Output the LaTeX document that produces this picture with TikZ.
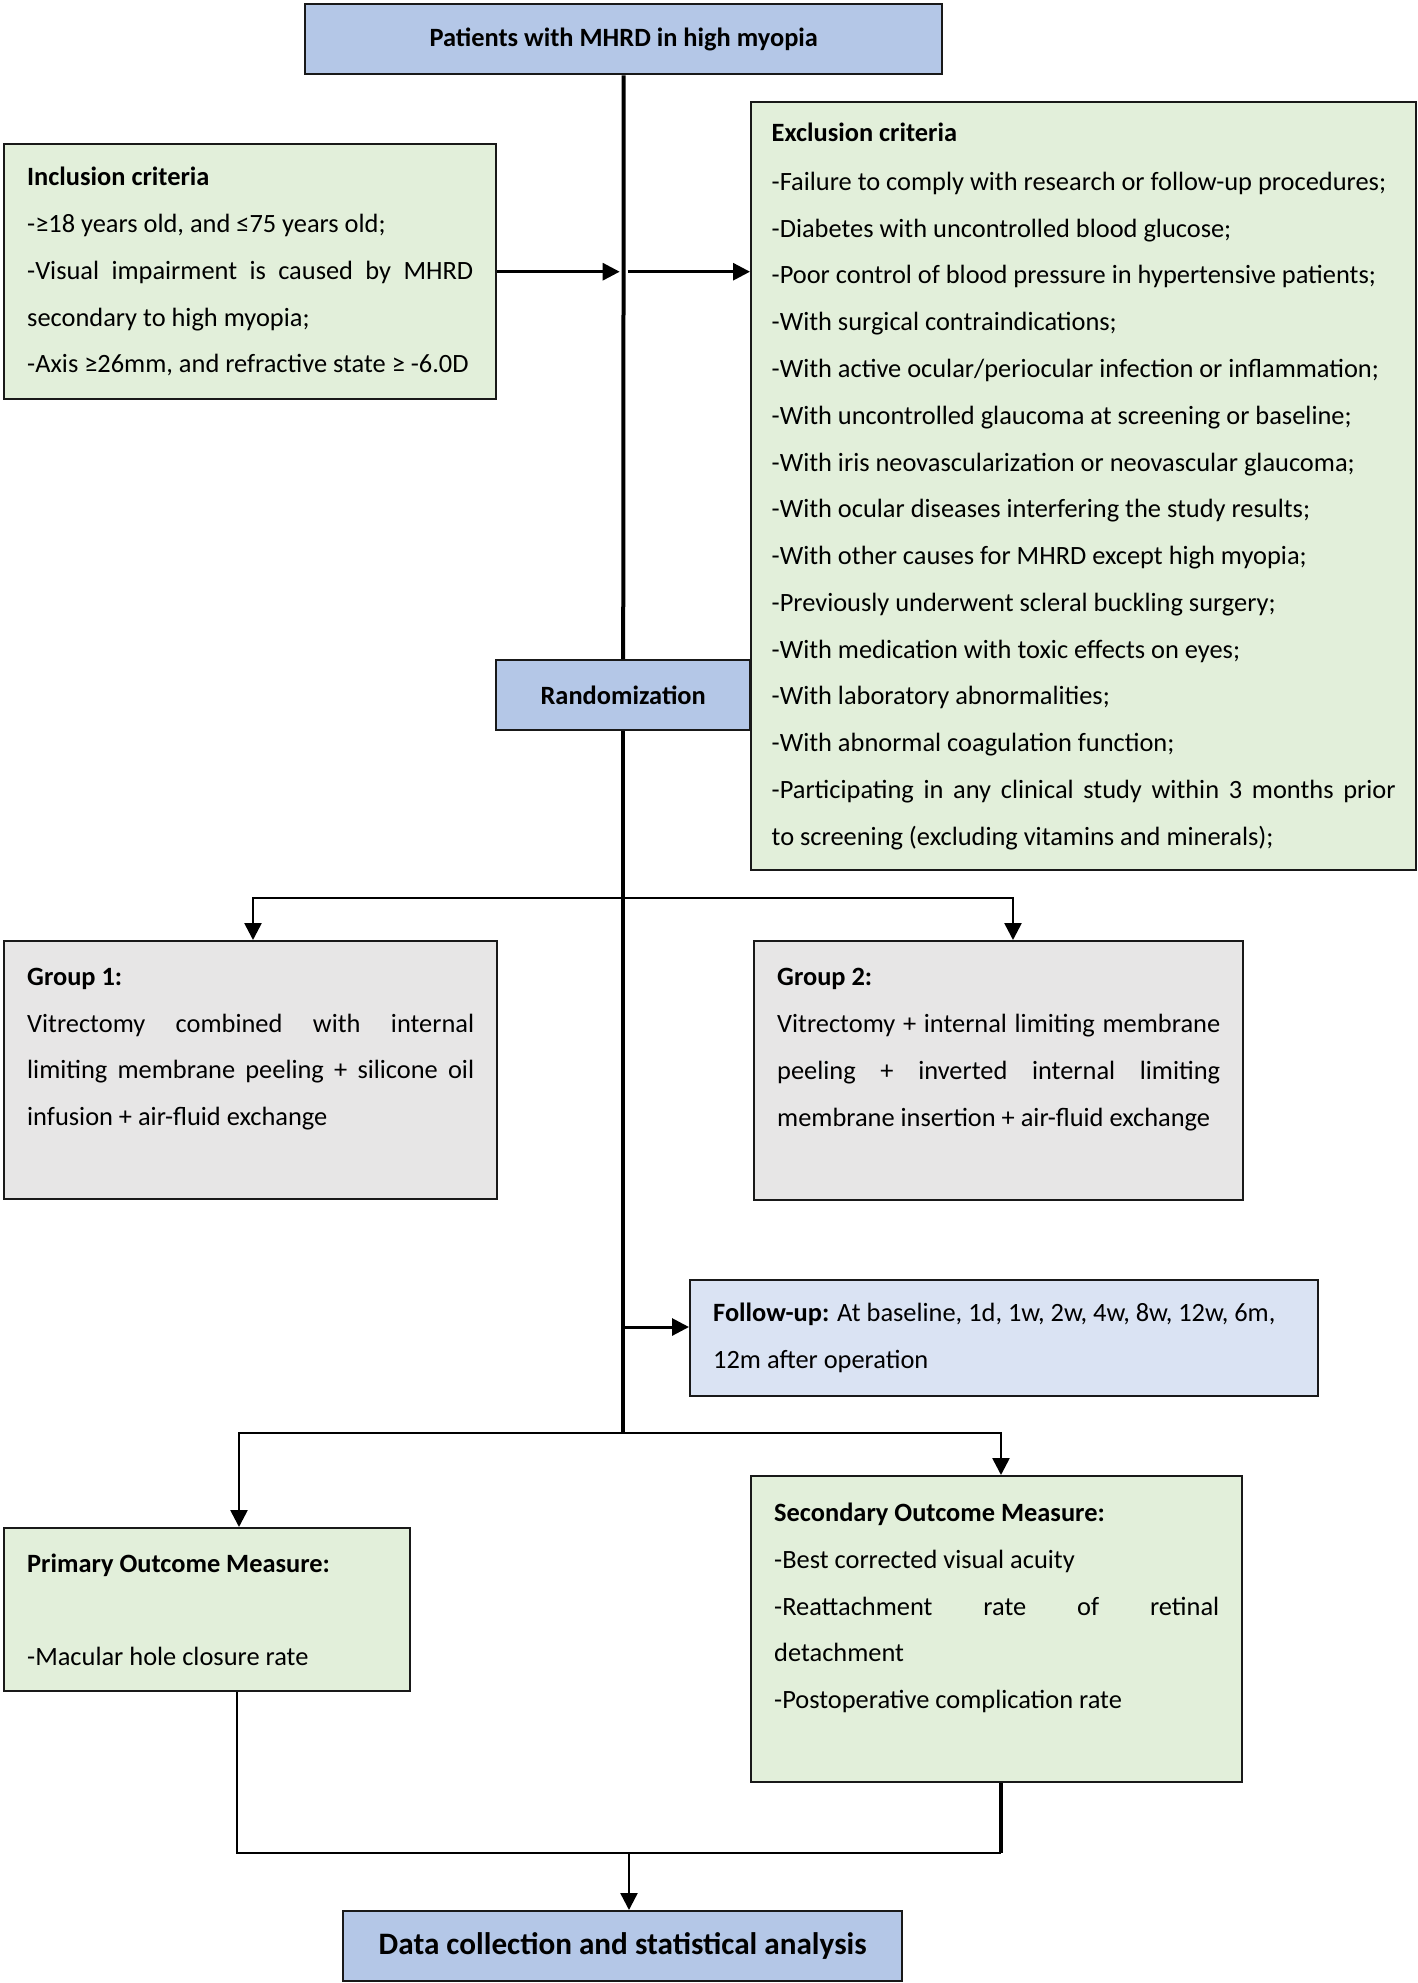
\documentclass[tikz,border=0pt]{standalone}
\usepackage{fontspec}
\setmainfont{Carlito}
\usetikzlibrary{arrows.meta}

\definecolor{boxblue}{RGB}{180,199,231}
\definecolor{boxpale}{RGB}{218,227,243}
\definecolor{boxgreen}{RGB}{226,239,218}
\definecolor{boxgray}{RGB}{231,230,230}

\tikzset{
	box/.style={draw=black!90, line width=1.2pt, anchor=north west, inner xsep=11.5pt, inner ysep=0pt, align=justify, font=\fontsize{13.2}{23.4}\selectfont},
	bluebox/.style={box, fill=boxblue},
	palebox/.style={box, fill=boxpale},
	greenbox/.style={box, fill=boxgreen},
	graybox/.style={box, fill=boxgray},
	spine/.style={line width=2pt},
	arr/.style={line width=1.5pt, -{Triangle[length=8.5pt,width=8.5pt]}},
	twoarr/.style={line width=1.3pt, {Triangle[length=8.5pt,width=8.5pt]}-{Triangle[length=8.5pt,width=8.5pt]}},
}

\begin{document}
\begin{tikzpicture}[x=0.5pt, y=-0.5pt]
			%%%%% START %%%%%
			\useasboundingbox (0,0) rectangle (1418,1983);
			
			\node[bluebox, minimum width=318.5pt, minimum height=35pt, align=center] (patients) at (304,3) {\textbf{Patients with MHRD in high myopia}};
			
			\node[greenbox, minimum width=246pt, minimum height=127.5pt, text width=223pt] (incl) at (3,143) {\textbf{Inclusion criteria}\\
				-≥18 years old, and ≤75 years old;\\
				-Visual impairment is caused by MHRD\linebreak secondary to high myopia;\\
				-Axis ≥26mm, and refractive state ≥ -6.0D};
			
			\node[greenbox, minimum width=332.5pt, minimum height=384pt, inner xsep=10.25pt, text width=312pt] (excl) at (750,101) {\textbf{Exclusion criteria}\\[1.2pt]
				-Failure to comply with research or follow-up procedures;\\
				-Diabetes with uncontrolled blood glucose;\\
				-Poor control of blood pressure in hypertensive patients;\\
				-With surgical contraindications;\\
				-With active ocular/periocular infection or inflammation;\\
				-With uncontrolled glaucoma at screening or baseline;\\
				-With iris neovascularization or neovascular glaucoma;\\
				-With ocular diseases interfering the study results;\\
				-With other causes for MHRD except high myopia;\\
				-Previously underwent scleral buckling surgery;\\
				-With medication with toxic effects on eyes;\\
				-With laboratory abnormalities;\\
				-With abnormal coagulation function;\\
				-Participating in any clinical study within 3 months prior\linebreak to screening (excluding vitamins and minerals);};
			
			\node[bluebox, minimum width=127pt, minimum height=35pt, align=center] (rand) at (495,659) {\textbf{Randomization}};
			
			\node[graybox, minimum width=246.5pt, minimum height=129pt, text width=223.5pt] (group1) at (3,940) {\textbf{Group 1:}\\
				Vitrectomy combined with internal\linebreak limiting membrane peeling + silicone oil\linebreak infusion + air-fluid exchange\\ \mbox{}};
			\node[graybox, minimum width=244.5pt, minimum height=129.5pt, text width=221.5pt] (group2) at (753,940) {\textbf{Group 2:}\\
				Vitrectomy + internal limiting membrane\linebreak peeling + inverted internal limiting\linebreak membrane insertion + air-fluid exchange\\ \mbox{}};
			
			\node[palebox, minimum width=314pt, minimum height=58pt, text width=291pt] (follow) at (689,1279) {\mbox{\textbf{Follow-up:} At baseline, 1d, 1w, 2w, 4w, 8w, 12w, 6m,}\\ 12m after operation};
			
			\node[greenbox, minimum width=203pt, minimum height=81.5pt, text width=180pt] (primary) at (3,1527) {\textbf{Primary Outcome Measure:}\\[23.4pt] -Macular hole closure rate};
			\node[greenbox, minimum width=245.5pt, minimum height=153pt, text width=222.5pt] (secondary) at (750,1475) {\textbf{Secondary Outcome Measure:}\\
				-Best corrected visual acuity\\
				-Reattachment rate of retinal\linebreak detachment\\
				-Postoperative complication rate\\ \mbox{}};
			
			\node[bluebox, minimum width=279.5pt, minimum height=35pt, align=center, font=\fontsize{15.6}{18}\selectfont] (analysis) at (342,1910) {\textbf{Data collection and statistical analysis}};
			
			% spine
			\coordinate (jIncl) at (patients.south |- incl.east);
			\coordinate (jGroup1) at (253,898);
			\coordinate (jGroup2) at (1013,898);
			\coordinate (jFollow) at (rand.south |- 0,1327);
			\coordinate (jOut) at (rand.south |- 0,1433);
			\coordinate (jPrimary) at (239,1433);
			\coordinate (jSecondary) at (1001,1433);
			\coordinate (mPrimary) at (237,1853);
			\coordinate (mSecondary) at (1001,1853);
			\coordinate (mAnalysis) at (629,1853);
			
			\draw[spine] (patients.south) -- (rand.north);
			\draw[arr] (incl.east) -- ([xshift=-2pt]jIncl);
			\draw[arr] ([xshift=2pt]jIncl) -- (excl.west |- incl.east);
			
			\draw[twoarr] (jGroup1 |- group1.north) -- (jGroup1) -- (jGroup2) -- (jGroup2 |- group2.north);
			\draw[arr] (jFollow) -- (follow.west |- jFollow);
			\draw[twoarr] (jPrimary |- primary.north) -- (jPrimary) -- (jSecondary) -- (jSecondary |- secondary.north);
			\draw[spine] (rand.south) -- (jOut);
			
			\draw[line width=1.3pt] (mPrimary |- primary.south) -- (mPrimary) -- (mSecondary);
			\draw[spine] (mSecondary |- secondary.south) -- (mSecondary);
			\draw[arr, line width=1.2pt] (mAnalysis) -- (mAnalysis |- analysis.north);
			
			%%%%% END %%%%%
\end{tikzpicture}
\end{document}
